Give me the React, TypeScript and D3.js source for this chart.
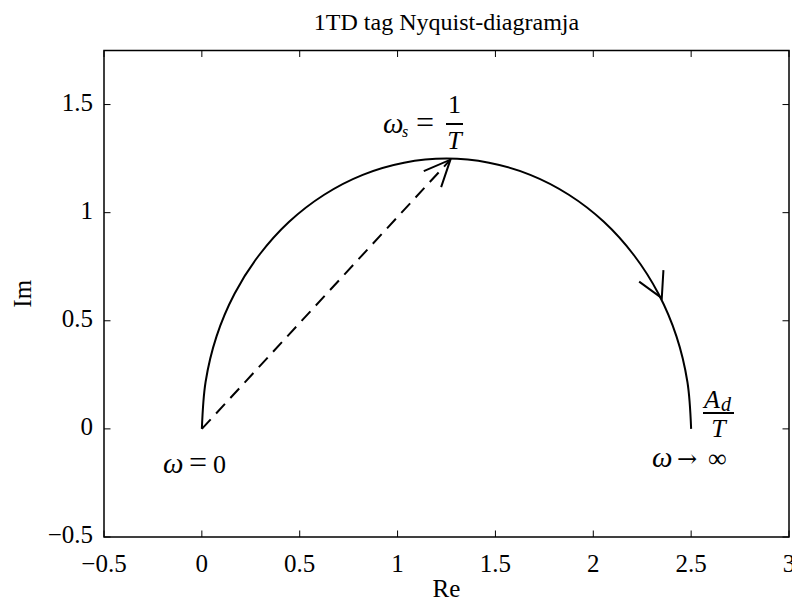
import React from 'react';
import * as d3 from 'd3';

// Nyquist curve points (Re, Im)
const curveRe = [0, 0.019, 0.075, 0.167, 0.292, 0.446, 0.625, 0.822, 1.033, 1.25, 1.467, 1.678, 1.875, 2.054, 2.208, 2.333, 2.425, 2.481, 2.5];
const curveIm = [0, 0.217, 0.428, 0.625, 0.803, 0.958, 1.083, 1.175, 1.231, 1.25, 1.231, 1.175, 1.083, 0.958, 0.803, 0.625, 0.428, 0.217, 0];

// dashed vector from origin to the omega_s point
const vectorRe = [0, 1.27];
const vectorIm = [0, 1.245];

// direction arrow on the curve
const arrowTip = [2.35, 0.605];
const arrowFrom = [2.29, 0.72];

const xTicks = [-0.5, 0, 0.5, 1, 1.5, 2, 2.5, 3];
const yTicks = [-0.5, 0, 0.5, 1, 1.5];

const W = 792;
const H = 601;
const margin = { left: 104, right: 3, top: 50.5, bottom: 64 };

const fmt = (v: number) => (v < 0 ? '\u2212' + String(Math.abs(v)) : String(v));

export default function App() {
  const x = d3.scaleLinear().domain([-0.5, 3]).range([margin.left, W - margin.right]);
  const y = d3.scaleLinear().domain([-0.5, 1.75]).range([H - margin.bottom, margin.top]);

  const pts: [number, number][] = curveRe.map((r, i) => [r, curveIm[i]]);
  const line = d3.line<[number, number]>()
    .x(d => x(d[0]))
    .y(d => y(d[1]))
    .curve(d3.curveCatmullRom);

  // arrowhead in pixel space
  const head = (fx: number, fy: number, tx: number, ty: number, len: number, ang: number) => {
    const a = Math.atan2(ty - fy, tx - fx);
    const p1 = [tx - len * Math.cos(a - ang), ty - len * Math.sin(a - ang)];
    const p2 = [tx - len * Math.cos(a + ang), ty - len * Math.sin(a + ang)];
    return `M${p1[0]},${p1[1]}L${tx},${ty}L${p2[0]},${p2[1]}`;
  };

  const vx0 = x(vectorRe[0]), vy0 = y(vectorIm[0]);
  const vx1 = x(vectorRe[1]), vy1 = y(vectorIm[1]);

  const ax0 = x(arrowFrom[0]), ay0 = y(arrowFrom[1]);
  const ax1 = x(arrowTip[0]), ay1 = y(arrowTip[1]);

  const x0 = margin.left, x1 = W - margin.right;
  const y0 = margin.top, y1 = H - margin.bottom;
  const tl = 6.5;
  const font = "'Liberation Serif', 'Times New Roman', Times, serif";
  const fs = 25;
  const omega = 29;
  const eq = 32;

  return (
    <svg width={W} height={H} style={{ position: 'absolute', left: 0, top: 0, fontFamily: font }}>
      <rect width={W} height={H} fill="#fff" />
      <text x={(x0 + x1) / 2} y={30} textAnchor="middle" fontSize={24}>1TD tag Nyquist-diagramja</text>

      {/* ticks */}
      {xTicks.map(t => (
        <g key={'x' + t}>
          <line x1={x(t)} x2={x(t)} y1={y1} y2={y1 - tl} stroke="#000" strokeWidth={1} />
          <line x1={x(t)} x2={x(t)} y1={y0} y2={y0 + tl} stroke="#000" strokeWidth={1} />
          <text x={x(t)} y={572} textAnchor="middle" fontSize={fs}>{fmt(t)}</text>
        </g>
      ))}
      {yTicks.map(t => (
        <g key={'y' + t}>
          <line x1={x0} x2={x0 + tl} y1={y(t)} y2={y(t)} stroke="#000" strokeWidth={1} />
          <line x1={x1} x2={x1 - tl} y1={y(t)} y2={y(t)} stroke="#000" strokeWidth={1} />
          <text x={93} y={y(t) + 6} textAnchor="end" fontSize={fs}>{fmt(t)}</text>
        </g>
      ))}
      <rect x={x0} y={y0} width={x1 - x0} height={y1 - y0} fill="none" stroke="#000" strokeWidth={1.5} />

      <text x={(x0 + x1) / 2} y={597} textAnchor="middle" fontSize={fs}>Re</text>
      <text transform={`translate(31,${(y0 + y1) / 2}) rotate(-90)`} textAnchor="middle" fontSize={fs}>Im</text>

      {/* curve */}
      <path d={line(pts) || ''} fill="none" stroke="#000" strokeWidth={2} />
      <path d={head(ax0, ay0, ax1, ay1, 28, 0.5)} fill="none" stroke="#000" strokeWidth={2} />

      {/* dashed vector */}
      <line x1={vx0} y1={vy0} x2={vx1} y2={vy1} stroke="#000" strokeWidth={2} strokeDasharray="13,8" />
      <path d={head(vx0, vy0, vx1, vy1, 29, 0.42)} fill="none" stroke="#000" strokeWidth={2} />

      {/* labels */}
      <g fontSize={26}>
        <text x={163} y={473} fontStyle="italic" fontSize={omega}>ω</text>
        <text x={189} y={473} fontSize={eq}>=</text>
        <text x={213} y={473}>0</text>

        <text x={383} y={133} fontStyle="italic" fontSize={omega}>ω</text>
        <text x={402} y={137} fontStyle="italic" fontSize={16}>s</text>
        <text x={416} y={133} fontSize={eq}>=</text>
        <line x1={446} x2={463} y1={124} y2={124} stroke="#000" strokeWidth={2} />
        <text x={454.5} y={113} textAnchor="middle">1</text>
        <text x={454.5} y={149} textAnchor="middle" fontStyle="italic">T</text>

        <line x1={703} x2={734} y1={413} y2={413} stroke="#000" strokeWidth={2} />
        <text x={704} y={408} fontStyle="italic">A</text>
        <text x={721} y={411} fontStyle="italic" fontSize={20}>d</text>
        <text x={718.5} y={437} textAnchor="middle" fontStyle="italic">T</text>

        <text x={652} y={467} fontStyle="italic" fontSize={omega}>ω</text>
        <text x={677} y={467} fontFamily="'DejaVu Serif', serif" fontSize={24}>→</text>
        <text x={708} y={467}>∞</text>
      </g>
    </svg>
  );
}
